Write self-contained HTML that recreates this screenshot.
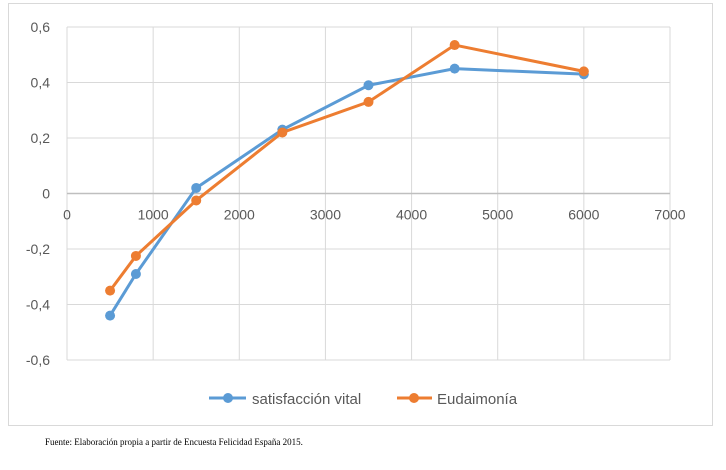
<!DOCTYPE html>
<html><head><meta charset="utf-8"><style>
body{margin:0;background:#fff;width:726px;height:470px;overflow:hidden}
</style></head><body>
<svg id="c" width="726" height="470" style="position:absolute;left:0;top:0;font-family:'Liberation Sans',sans-serif">
<rect x="8.5" y="3.5" width="704" height="422" fill="#fff" stroke="#d9d9d9"/>
<g id="grid"></g><g id="series"></g>
<g>
<line x1="209" y1="398" x2="246" y2="398" stroke="#5b9bd5" stroke-width="3"/>
<circle cx="228" cy="398" r="5" fill="#5b9bd5"/>
<text x="252" y="404" font-size="15" fill="#595959">satisfacción vital</text>
<line x1="397" y1="398" x2="432" y2="398" stroke="#ed7d31" stroke-width="3"/>
<circle cx="414" cy="398" r="5" fill="#ed7d31"/>
<text x="437" y="404" font-size="15" fill="#595959">Eudaimonía</text>
</g>
<text x="45" y="445" font-size="9" font-family="'Liberation Serif',serif" fill="#000">Fuente: Elaboración propia a partir de Encuesta Felicidad España 2015.</text>
</svg>
<script>
const xValues=[500,800,1500,2500,3500,4500,6000];
const satisfaccion=[-0.44,-0.29,0.02,0.23,0.39,0.45,0.43];
const eudaimonia=[-0.35,-0.225,-0.025,0.22,0.33,0.535,0.44];
const xTicks=[0,1000,2000,3000,4000,5000,6000,7000];
const yTicks=[0.6,0.4,0.2,0,-0.2,-0.4,-0.6];
const NS='http://www.w3.org/2000/svg';
const X0=67,X1=670,Y0=27,Y1=360;
const sx=v=>X0+(v-0)/7000*(X1-X0);
const sy=v=>Y0+(0.6-v)/1.2*(Y1-Y0);
function mk(t,a,p){const e=document.createElementNS(NS,t);for(const k in a)e.setAttribute(k,a[k]);p.appendChild(e);return e;}
const g=document.getElementById('grid');
xTicks.forEach(t=>{
 const l=mk('line',{x1:sx(t),x2:sx(t),y1:Y0,y2:Y1,stroke:'#d9d9d9'},g);
 
 
 const tx=mk('text',{x:sx(t),y:sy(0)+26,'text-anchor':'middle','font-size':14,fill:'#595959'},g);
 tx.textContent=t;
 
 
});
yTicks.forEach(t=>{
 const l=mk('line',{x1:X0,x2:X1,y1:sy(t),y2:sy(t),stroke:t===0?'#bfbfbf':'#d9d9d9','stroke-width':t===0?1.5:1},g);
 
 
 const tx=mk('text',{x:50,y:sy(t)+5,'text-anchor':'end','font-size':14,fill:'#595959'},g);
 tx.textContent=String(t).replace('.',',');
 
 
});
const s=document.getElementById('series');
function draw(vals,col,name){
 const pl=mk('polyline',{points:xValues.map((x,i)=>sx(x)+','+sy(vals[i])).join(' '),fill:'none',stroke:col,'stroke-width':3},s);
 
 
 xValues.forEach((x,i)=>{
  const c=mk('circle',{cx:sx(x),cy:sy(vals[i]),r:5,fill:col},s);
  
  
 });
}
draw(satisfaccion,'#5b9bd5','satisfaccion');
draw(eudaimonia,'#ed7d31','eudaimonia');
</script>
</body></html>
